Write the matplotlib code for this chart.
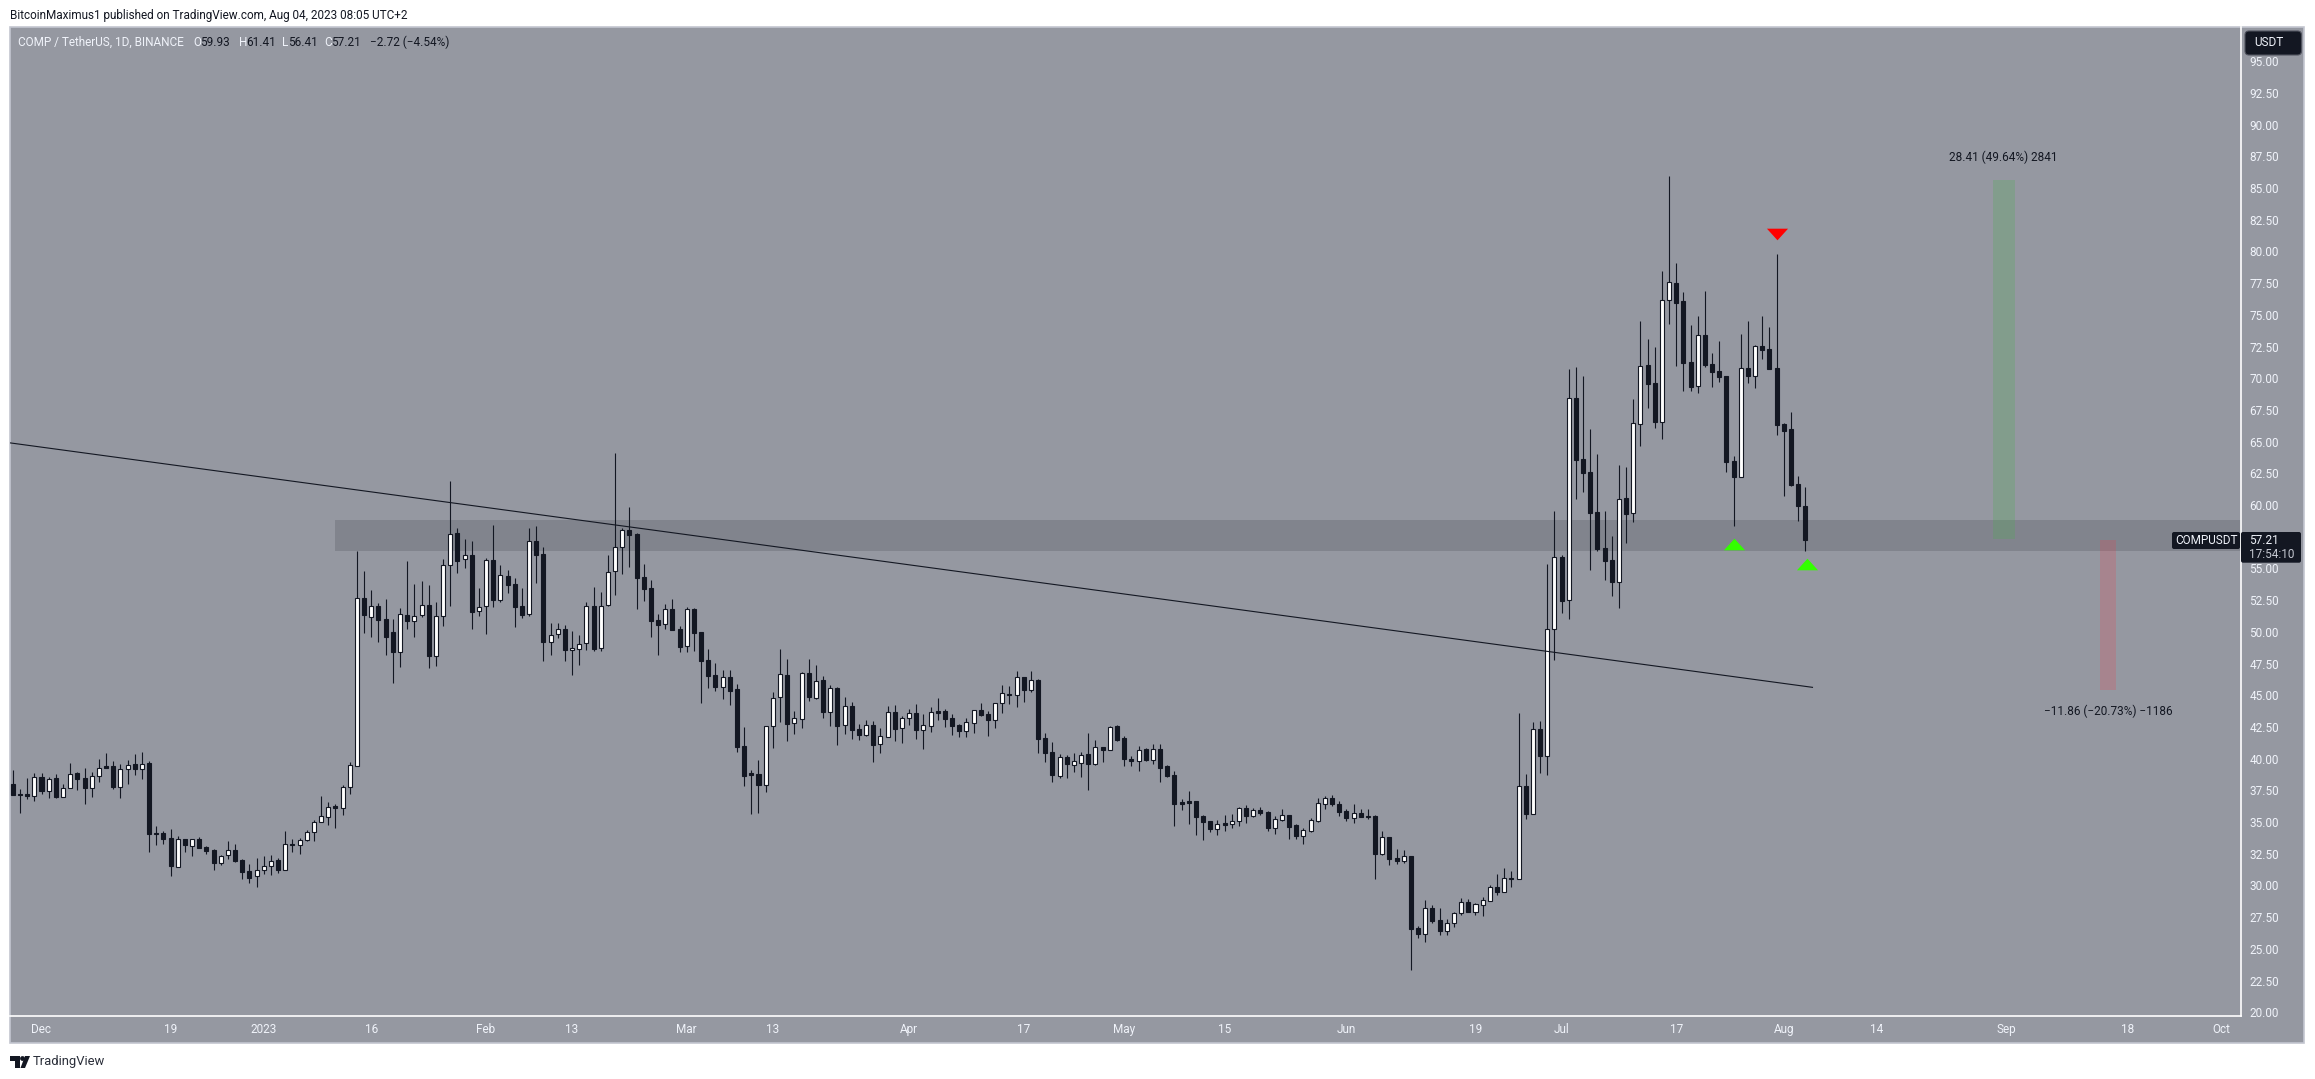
import matplotlib
matplotlib.use('Agg')
import matplotlib.pyplot as plt
from matplotlib.patches import Rectangle, FancyBboxPatch, Circle, Polygon
import numpy as np
import pandas as pd

plt.rcParams['font.family'] = ['Roboto', 'DejaVu Sans']

# daily candles, day number counted from 1 Dec 2022
days = np.arange(-4, 247)

opens = [37.99, 37.20, 37.18, 37.07, 38.52, 37.47, 38.44, 37.00, 37.71, 38.84,
         38.44, 37.71, 38.60, 39.41, 39.41, 37.78, 39.15, 39.55, 39.20, 39.65,
         34.13, 34.13, 33.74, 31.47, 33.63, 33.13, 33.66, 33.03, 32.79, 31.79,
         32.42, 32.79, 32.00, 31.11, 30.71, 31.19, 31.55, 31.97, 31.24, 33.26,
         33.16, 33.55, 34.18, 34.97, 35.42, 36.23, 36.13, 37.73, 39.44,
         52.70, 51.20, 52.00, 51.00, 50.00,
         48.38, 51.33, 50.88, 51.30, 52.12, 48.12, 51.22, 55.24, 57.77, 55.72,
         56.03, 51.67, 52.01, 55.64, 52.54, 54.40, 53.75, 52.01, 51.38, 57.14,
         56.11, 49.17, 49.80, 50.20, 48.54, 48.62, 49.09, 52.01, 48.70, 52.09,
         54.77, 56.66, 58.00, 57.69, 54.30, 53.43, 50.91, 50.59, 51.77, 50.20,
         48.86, 51.80,
         49.98, 47.78, 46.59, 45.62, 46.43, 45.49, 40.99, 38.84, 38.78, 37.94,
         42.54, 44.83, 46.59, 42.78, 43.10, 46.75, 44.80, 46.20, 43.70, 45.54,
         42.62, 44.15, 42.33, 41.89, 42.65, 41.12, 41.73, 43.67, 42.39, 43.17,
         43.60, 42.28, 42.60, 43.73, 43.73, 43.20, 42.65, 42.20, 42.83, 43.81,
         43.52, 43.07, 44.36, 45.09, 45.04, 46.43, 45.44, 46.17, 41.60, 40.52,
         38.65, 40.10, 39.52, 39.68, 40.36, 39.57,
         40.91, 40.70, 42.54, 41.62, 39.97, 39.84, 40.73, 39.91, 40.73, 39.41,
         38.71, 36.58, 36.63, 36.63, 35.45, 35.08, 34.45, 34.92, 34.87, 35.10,
         36.10, 35.50, 35.94, 35.76, 34.55, 35.18, 35.55, 34.76, 33.92, 34.31,
         35.08, 36.44, 36.89, 36.42, 35.87, 35.31, 35.71, 35.45, 35.45, 32.50,
         33.79, 32.16,
         31.95, 32.32, 26.64, 26.19, 28.22, 27.25, 26.43, 27.06, 27.85, 28.69,
         27.93, 28.48, 28.80, 29.87, 29.51, 30.58, 30.53, 37.81, 35.66, 42.30,
         40.20, 50.19, 55.90, 52.48, 68.44, 63.63, 62.60, 59.45, 56.61, 55.66,
         53.95, 60.55, 59.40, 66.41, 71.04, 69.60, 66.57, 76.14, 77.48, 76.06,
         71.28, 69.36, 73.38, 71.12, 70.57, 70.17, 63.47, 62.23, 70.78, 70.20,
         72.54, 72.28, 70.78, 66.39, 65.99, 61.65, 59.93]

highs = [39.10, 37.60, 38.44, 38.84, 38.84, 38.52, 38.76, 37.97, 39.62, 38.94,
         39.23, 38.92, 39.94, 40.44, 39.81, 39.55, 39.86, 40.33, 40.52, 39.78,
         34.68, 34.29, 34.42, 33.89, 33.63, 33.63, 33.84, 33.11, 32.84, 32.39,
         33.50, 33.26, 32.05, 31.67, 32.13, 32.32, 32.39, 32.13, 34.29, 33.63,
         33.71, 34.37, 35.13, 37.02, 36.55, 36.42, 37.89, 39.73, 56.40,
         54.80, 53.30, 52.30, 52.60, 51.00,
         51.85, 55.59, 53.77, 54.01, 53.69, 52.33, 55.74, 61.90, 58.16, 57.32,
         57.16, 53.43, 55.80, 58.43, 55.27, 54.88, 54.22, 53.43, 58.16, 58.35,
         56.66, 50.70, 50.70, 50.51, 50.07, 49.72, 52.33, 53.54, 53.14, 56.03,
         64.10, 58.16, 59.85, 57.77, 55.32, 54.06, 51.41, 52.20, 52.59, 50.43,
         51.93, 51.85,
         50.00, 48.64, 47.51, 46.99, 46.99, 45.88, 42.49, 39.10, 39.89, 42.54,
         45.23, 48.64, 47.85, 43.73, 46.80, 47.85, 47.38, 46.51, 45.80, 45.65,
         44.86, 44.44, 42.73, 43.04, 42.94, 42.41, 44.15, 44.23, 43.33, 43.91,
         44.31, 43.52, 44.04, 44.78, 43.91, 43.52, 42.70, 43.20, 43.83, 44.38,
         43.73, 44.36, 45.80, 45.72, 46.91, 46.43, 46.91, 46.25, 42.02, 41.31,
         40.34, 40.28, 40.44, 40.52, 42.02, 41.44,
         40.91, 42.54, 42.62, 41.75, 40.20, 41.00, 40.81, 41.15, 41.12, 39.47,
         39.02, 36.81, 37.44, 36.63, 35.55, 35.08, 35.16, 35.55, 35.63, 36.18,
         36.34, 36.13, 36.16, 35.84, 35.47, 36.02, 35.55, 34.81, 34.52, 35.31,
         36.89, 37.05, 37.13, 36.65, 36.02, 36.42, 36.02, 36.02, 35.52, 34.29,
         33.82, 32.87,
         32.79, 32.32, 26.80, 28.85, 28.46, 28.22, 27.35, 27.90, 29.01, 28.93,
         28.59, 29.09, 30.03, 30.90, 31.37, 31.14, 43.60, 38.79, 42.90, 43.00,
         55.35, 59.53, 56.06, 70.70, 70.90, 70.20, 65.97, 64.02, 59.53, 57.56,
         63.16, 63.00, 68.36, 74.51, 73.09, 72.46, 78.46, 85.95, 79.09, 76.80,
         74.20, 74.91, 76.88, 71.99, 72.93, 70.20, 63.86, 73.49, 74.51, 72.62,
         74.91, 74.04, 79.80, 66.44, 67.31, 62.29, 61.41]

lows = [37.13, 35.73, 36.81, 36.68, 37.20, 36.92, 36.92, 37.00, 37.71, 37.52,
        36.42, 36.97, 38.15, 39.28, 37.60, 36.92, 38.02, 38.73, 38.39, 32.63,
        33.18, 33.26, 30.74, 31.47, 32.63, 32.32, 32.95, 32.47, 31.21, 31.60,
        32.11, 31.84, 30.50, 30.21, 29.90, 30.90, 30.82, 31.00, 31.24, 32.63,
        32.47, 33.53, 33.53, 34.97, 34.76, 34.52, 35.55, 37.20, 39.44,
        49.90, 49.60, 49.20, 48.20, 46.00,
        47.25, 50.22, 49.62, 51.20, 47.17, 47.33, 50.49, 52.06, 54.67, 55.06,
        50.22, 51.27, 49.86, 51.98, 52.38, 53.09, 50.41, 51.12, 51.27, 53.88,
        47.73, 48.20, 49.54, 47.73, 46.62, 47.41, 48.59, 48.51, 48.51, 52.06,
        52.93, 54.56, 55.14, 51.80, 52.43, 49.62, 48.20, 50.25, 50.14, 48.44,
        48.44, 48.51,
        44.38, 45.59, 45.33, 44.70, 44.23, 40.52, 37.84, 35.63, 35.71, 37.39,
        40.83, 42.89, 41.39, 41.94, 42.41, 44.54, 44.70, 43.20, 42.57, 41.07,
        41.94, 41.54, 41.47, 41.81, 39.73, 40.44, 41.73, 41.39, 41.23, 42.65,
        41.54, 40.76, 42.12, 43.04, 42.49, 41.86, 41.70, 41.70, 42.02, 43.36,
        41.78, 42.41, 43.60, 44.31, 44.07, 44.46, 45.25, 40.44, 39.73, 38.15,
        38.47, 38.47, 38.94, 38.55, 37.52, 39.49,
        39.73, 40.70, 41.39, 39.41, 39.41, 39.02, 39.81, 39.57, 38.15, 38.55,
        34.68, 35.94, 34.84, 33.97, 33.58, 34.21, 33.97, 34.29, 34.52, 34.68,
        34.92, 35.39, 35.55, 34.29, 34.05, 35.08, 33.66, 33.66, 33.26, 34.21,
        35.00, 36.02, 36.26, 35.47, 35.08, 34.92, 35.39, 35.23, 30.51, 32.40,
        31.61, 31.69,
        31.77, 23.33, 25.85, 25.54, 27.04, 26.09, 26.09, 26.72, 27.67, 27.90,
        27.67, 27.59, 28.80, 29.24, 29.48, 29.87, 30.53, 35.24, 35.66, 38.87,
        38.71, 47.80, 51.46, 51.00, 60.50, 61.05, 54.87, 56.37, 54.09, 52.82,
        51.88, 57.00, 58.66, 64.68, 67.68, 66.10, 65.23, 74.30, 70.99, 69.02,
        69.02, 68.86, 70.91, 69.33, 69.73, 62.60, 58.34, 62.23, 69.65, 69.25,
        71.52, 70.73, 65.52, 60.71, 61.50, 58.74, 56.41]

closes = [37.13, 37.15, 37.05, 38.52, 37.47, 38.42, 37.00, 37.71, 38.81, 38.42,
          37.71, 38.60, 39.28, 39.28, 37.78, 39.15, 39.52, 39.20, 39.55, 34.05,
          34.05, 33.66, 31.53, 33.63, 33.18, 33.63, 32.95, 32.71, 31.76, 32.32,
          32.76, 31.92, 31.05, 30.61, 31.19, 31.55, 31.95, 31.24, 33.24, 33.18,
          33.55, 34.18, 34.97, 35.44, 36.15, 36.13, 37.73, 39.47, 52.70,
          51.30, 52.00, 50.90, 49.60, 48.40,
          51.41, 50.88, 51.27, 52.09, 48.12, 51.22, 55.24, 57.69, 55.61, 56.03,
          51.59, 51.98, 55.64, 52.54, 54.46, 53.72, 51.98, 51.35, 57.14, 56.09,
          49.22, 49.78, 50.20, 48.59, 48.70, 49.07, 52.01, 48.67, 52.01, 54.69,
          56.66, 58.00, 57.66, 54.27, 53.40, 50.88, 50.56, 51.77, 50.17, 48.83,
          51.77, 49.93,
          47.72, 46.54, 45.67, 46.41, 45.36, 40.94, 38.65, 38.73, 37.94, 42.54,
          44.75, 46.65, 42.75, 43.17, 46.72, 44.88, 46.09, 43.67, 45.54, 42.60,
          44.12, 42.25, 41.86, 42.62, 41.10, 41.75, 43.65, 42.33, 43.17, 43.57,
          42.25, 42.62, 43.65, 43.62, 43.12, 42.57, 42.18, 42.86, 43.81, 43.44,
          43.04, 44.36, 45.15, 45.00, 46.41, 45.41, 46.17, 41.54, 40.47, 38.71,
          40.10, 39.57, 39.78, 40.26, 39.57, 40.89,
          40.68, 42.52, 41.47, 39.97, 39.81, 40.65, 39.89, 40.73, 39.26, 38.63,
          36.42, 36.42, 36.50, 35.39, 35.00, 34.42, 34.81, 34.76, 35.05, 36.08,
          35.47, 35.92, 35.68, 34.52, 35.21, 35.52, 34.60, 33.89, 34.34, 35.13,
          36.47, 36.86, 36.42, 35.79, 35.31, 35.68, 35.39, 35.39, 32.50, 33.79,
          32.11, 31.95,
          32.29, 26.56, 26.17, 28.19, 27.19, 26.40, 27.01, 27.80, 28.67, 27.90,
          28.51, 28.82, 29.85, 29.48, 30.56, 30.51, 37.81, 35.63, 42.30, 40.20,
          50.19, 55.87, 52.46, 68.41, 63.58, 62.55, 59.40, 56.56, 55.58, 53.95,
          60.45, 59.32, 66.44, 70.94, 69.57, 66.57, 76.14, 77.56, 75.96, 71.23,
          69.33, 73.38, 71.07, 70.52, 70.12, 63.42, 62.23, 70.78, 70.20, 72.51,
          72.22, 70.73, 66.31, 65.83, 61.58, 59.92, 57.21]

price_ticks = np.arange(20, 95.1, 2.5)
date_ticks = ['2022-12-01', '2022-12-19', '2023-01-01', '2023-01-16', '2023-02-01',
              '2023-02-13', '2023-03-01', '2023-03-13', '2023-04-01', '2023-04-17',
              '2023-05-01', '2023-05-15', '2023-06-01', '2023-06-19', '2023-07-01',
              '2023-07-17', '2023-08-01', '2023-08-14', '2023-09-01', '2023-09-18',
              '2023-10-01']
date_labels = ['Dec', '19', '2023', '16', 'Feb', '13', 'Mar', '13', 'Apr', '17', 'May',
               '15', 'Jun', '19', 'Jul', '17', 'Aug', '14', 'Sep', '18', 'Oct']

# drawings on the chart
band_price = [56.37, 58.82]
band_start = 41
trend_days = [-4.4, 247]
trend_prices = [64.9, 45.62]
long_days = [272.2, 275.3]
long_prices = [57.29, 85.63]
short_days = [287.1, 289.3]
short_prices = [45.43, 57.24]
up_days = [236.1, 246.2]
up_prices = [56.96, 55.35]
down_days = [242.1]
down_prices = [81.37]

BG = '#9598a1'
DARK = '#131722'
LIGHT = '#f0f3fa'
FS = 8.5
W, H = 2315, 1079
LEFT, RIGHT, TOP, BOTTOM = 10, 2241, 27, 1016

fig = plt.figure(figsize=(W / 100, H / 100), dpi=100, facecolor='white')

# panel behind the chart
back = fig.add_axes([0, 0, 1, 1], zorder=0)
back.set_xlim(0, W)
back.set_ylim(H, 0)
back.axis('off')
back.add_patch(Rectangle((10, 27), 2294, 1016, facecolor=BG, edgecolor='#c3c6d0', linewidth=1.2))

ax = fig.add_axes([LEFT / W, 1 - BOTTOM / H, (RIGHT - LEFT) / W, (BOTTOM - TOP) / H], zorder=1)
ax.patch.set_alpha(0)

px_per_day = 7.17
x0 = 41.5
ax.set_xlim((LEFT - x0) / px_per_day, (RIGHT - x0) / px_per_day)
ax.set_ylim(85 - (BOTTOM - 188) / 12.68, 85 + (188 - TOP) / 12.68)

# support band and measuring boxes
ax.fill_between([band_start, ax.get_xlim()[1]], band_price[0], band_price[1],
                color='#5d6068', alpha=0.35, linewidth=0, zorder=1)
ax.fill_between(long_days, long_prices[0], long_prices[1], color='#4caf50', alpha=0.25, linewidth=0, zorder=1.5)
ax.fill_between(short_days, short_prices[0], short_prices[1], color='#f23645', alpha=0.2, linewidth=0, zorder=1.5)

# candles
opens = np.array(opens)
closes = np.array(closes)
up = closes >= opens
ax.vlines(days, lows, highs, color=DARK, linewidth=0.8, zorder=2)
ax.bar(days, np.abs(closes - opens), bottom=np.minimum(opens, closes), width=0.56,
       color=np.where(up, 'white', DARK), edgecolor=DARK, linewidth=0.8, zorder=3)

ax.plot(trend_days, trend_prices, color=DARK, linewidth=0.8, zorder=4)

# pivots
tri_up = [(-1, -0.55), (1, -0.55), (0, 0.55), (-1, -0.55)]
tri_down = [(-1, 0.55), (1, 0.55), (0, -0.55), (-1, 0.55)]
ax.plot(up_days, up_prices, linestyle='none', marker=tri_up, markersize=15.2,
        color='#33ff00', markeredgewidth=0, zorder=5)
ax.plot(down_days, down_prices, linestyle='none', marker=tri_down, markersize=15.2,
        color='#ff0000', markeredgewidth=0, zorder=5)

# axes
for side in ['left', 'top']:
    ax.spines[side].set_visible(False)
for side in ['right', 'bottom']:
    ax.spines[side].set_color('white')
    ax.spines[side].set_linewidth(1.2)
ax.yaxis.tick_right()
ax.set_yticks(price_ticks)
ax.set_yticklabels([f'{p:.2f}' for p in price_ticks])
base = pd.Timestamp('2022-12-01')
ax.set_xticks([(pd.Timestamp(d) - base).days for d in date_ticks])
ax.set_xticklabels(date_labels)
ax.tick_params(axis='y', length=0, pad=6, labelsize=FS, labelcolor=LIGHT)
ax.tick_params(axis='x', length=0, pad=5, labelsize=FS, labelcolor=LIGHT)

# things that sit on top
top = fig.add_axes([0, 0, 1, 1], zorder=2)
top.set_xlim(0, W)
top.set_ylim(H, 0)
top.axis('off')

top.text(10, 15, 'BitcoinMaximus1 published on TradingView.com, Aug 04, 2023 08:05 UTC+2',
         fontsize=FS, color=DARK, va='center')
top.text(18, 42, 'COMP / TetherUS, 1D, BINANCE', fontsize=FS, color=LIGHT, va='center')
for x, s, c in [(193, 'O', LIGHT), (200, '59.93', DARK), (239, 'H', LIGHT), (246, '61.41', DARK),
                (282, 'L', LIGHT), (288, '56.41', DARK), (324, 'C', LIGHT), (331, '57.21', DARK),
                (370, '\u22122.72 (\u22124.54%)', DARK)]:
    top.text(x, 42, s, fontsize=FS, color=c, va='center')

top.text(2003.7, 157, '28.41 (49.64%) 2841', fontsize=FS, color=DARK, ha='center', va='center')
top.text(2108, 711.7, '\u221211.86 (\u221220.73%) \u22121186', fontsize=FS, color=DARK, ha='center', va='center')

top.add_patch(FancyBboxPatch((2245, 31), 56.5, 24, boxstyle='round,pad=0,rounding_size=4',
                             facecolor=DARK, edgecolor='#50535e', linewidth=0.8))
top.text(2254, 43, 'USDT', fontsize=FS, color=LIGHT, va='center')

top.add_patch(FancyBboxPatch((2172, 532), 68, 17, boxstyle='round,pad=0,rounding_size=2',
                             facecolor=DARK, edgecolor='none'))
top.text(2206, 540.5, 'COMPUSDT', fontsize=FS, color=LIGHT, ha='center', va='center')
top.add_patch(FancyBboxPatch((2241, 532), 60, 30.7, boxstyle='round,pad=0,rounding_size=2',
                             facecolor=DARK, edgecolor='none'))
top.text(2249, 541, '57.21', fontsize=FS, color=LIGHT, va='center')
top.text(2249, 555, '17:54:10', fontsize=FS, color='#c4c7d0', va='center')

# TradingView mark
top.add_patch(Polygon([(10, 1056), (20, 1056), (20, 1068), (15, 1068), (15, 1061), (10, 1061)], facecolor=DARK))
top.add_patch(Circle((22.5, 1058.5), 2.4, facecolor=DARK))
top.add_patch(Polygon([(25, 1056), (30, 1056), (25, 1068), (20.5, 1068)], facecolor=DARK))
top.text(33, 1062, 'TradingView', fontsize=9.4, color='#2a2e39', va='center')

fig.savefig('out.png', dpi=100)
